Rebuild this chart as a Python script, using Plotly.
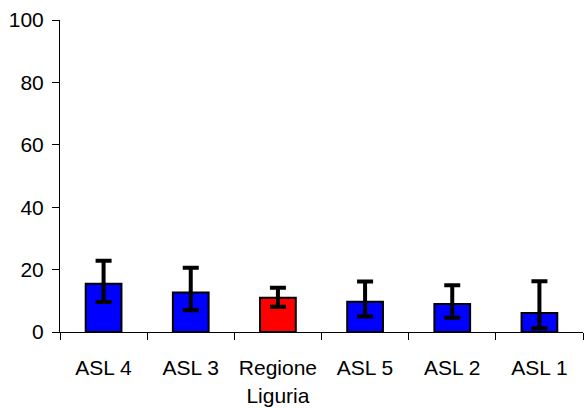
import plotly.graph_objects as go

categories = ["ASL 4", "ASL 3", "Regione<br>Liguria", "ASL 5", "ASL 2", "ASL 1"]
values = [15.5, 12.7, 11.0, 9.7, 9.0, 6.1]
err_plus = [7.3, 7.9, 3.2, 6.5, 6.0, 10.2]
err_minus = [5.9, 5.7, 2.9, 4.7, 4.4, 4.9]
bar_colors = ["#0000FF", "#0000FF", "#FF0000", "#0000FF", "#0000FF", "#0000FF"]
y_ticks = [0, 20, 40, 60, 80, 100]

fig = go.Figure()
fig.add_trace(go.Bar(
    x=categories,
    y=values,
    marker=dict(color=bar_colors, line=dict(color="black", width=2)),
    error_y=dict(type="data", symmetric=False, array=err_plus, arrayminus=err_minus,
                 color="black", thickness=4, width=8),
    showlegend=False,
))

fig.update_layout(
    width=584, height=408,
    margin=dict(l=60, r=1, t=20, b=76),
    paper_bgcolor="white", plot_bgcolor="white",
    bargap=0.59,
    font=dict(family="Liberation Sans, Arial, sans-serif", size=21, color="black"),
    xaxis=dict(
        showline=True, linecolor="black", linewidth=1,
        ticks="outside", ticklen=7, tickcolor="black", tickson="boundaries",
        showgrid=False, ticklabelstandoff=17, automargin=False, tickangle=0,
    ),
    yaxis=dict(
        range=[0, 100], tickvals=y_ticks,
        showline=True, linecolor="black", linewidth=1,
        ticks="outside", ticklen=7, tickcolor="black",
        showgrid=False, zeroline=False, ticklabelstandoff=4, automargin=False,
    ),
)

fig.write_html(
    "out.html",
    config={"displayModeBar": False},
    post_script="document.body.style.margin='0';document.body.style.overflow='hidden';",
)
